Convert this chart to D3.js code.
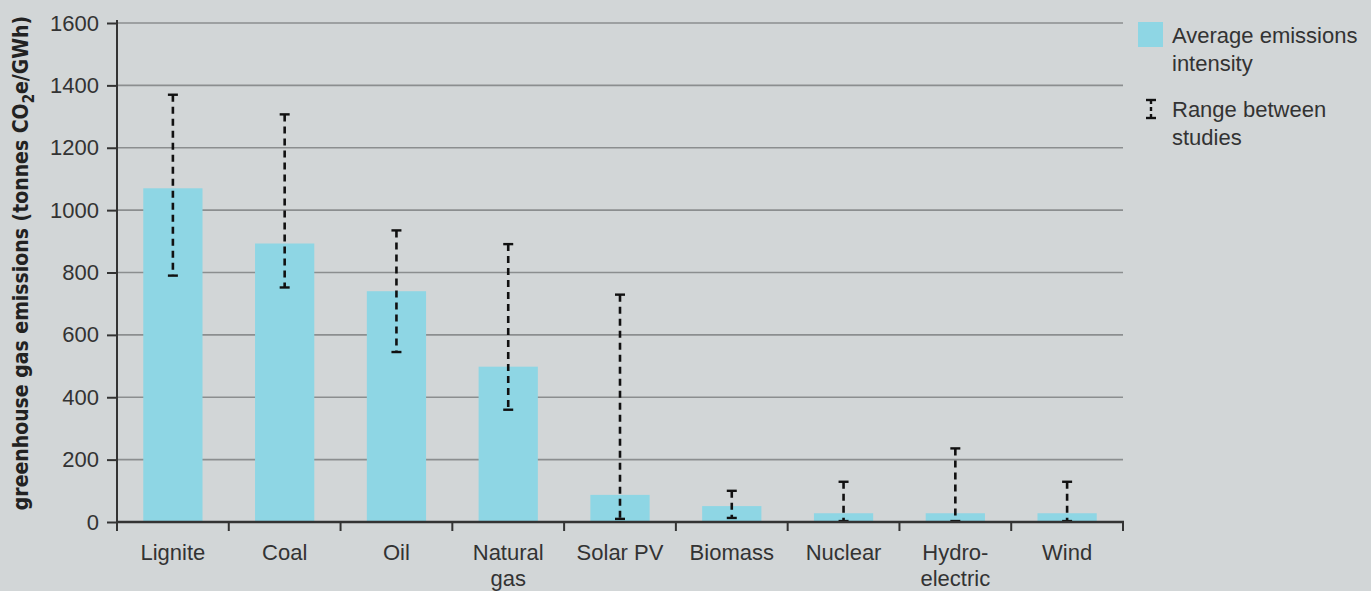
<!DOCTYPE html>
<html>
<head>
<meta charset="utf-8">
<script src="https://cdn.jsdelivr.net/npm/d3@7"></script>
<style>
  html, body { margin: 0; padding: 0; background: #d2d6d7; }
  svg { display: block; }
</style>
</head>
<body>
<svg id="chart" width="1371" height="591"></svg>
<script>
// ---- Data ----
const categories = ["Lignite", "Coal", "Oil", "Natural gas", "Solar PV", "Biomass", "Nuclear", "Hydro-electric", "Wind"];
const categoryLines = [["Lignite"], ["Coal"], ["Oil"], ["Natural", "gas"], ["Solar PV"], ["Biomass"], ["Nuclear"], ["Hydro-", "electric"], ["Wind"]];
const averageValues = [1070, 893, 740, 498, 87, 51, 28, 28, 28];
const rangeLow = [790, 752, 545, 360, 10, 13, 3, 3, 3];
const rangeHigh = [1370, 1307, 935, 891, 729, 100, 129, 236, 129];
const yTicks = [0, 200, 400, 600, 800, 1000, 1200, 1400, 1600];
const legendLabels = [["Average emissions", "intensity"], ["Range between", "studies"]];

(function () {
// ---- Layout ----
const svg = d3.select("#chart");
const mLeft = 117, mRight = 1123, mTop = 23, mBottom = 522;
const barColor = "#8ed6e4";
const textColor = "#333333";
const font = "'Liberation Sans', Arial, sans-serif";

const x = d3.scaleBand().domain(categories).range([mLeft, mRight]).padding(0);
const y = d3.scaleLinear().domain([0, 1600]).range([mBottom, mTop]);
const barW = x.bandwidth() * 0.53;

// gridlines
svg.append("g").selectAll("line").data(yTicks.filter(d => d > 0)).join("line")
  .attr("x1", mLeft).attr("x2", mRight)
  .attr("y1", d => y(d)).attr("y2", d => y(d))
  .attr("stroke", "#8b8e8f").attr("stroke-width", 1.6);

// bars
svg.append("g").selectAll("rect").data(categories).join("rect")
  .attr("x", d => x(d) + (x.bandwidth() - barW) / 2)
  .attr("width", barW)
  .attr("y", (d, i) => y(averageValues[i]))
  .attr("height", (d, i) => y(0) - y(averageValues[i]))
  .attr("fill", barColor);

// error bars
const eb = svg.append("g");
categories.forEach((c, i) => {
  const cx = x(c) + x.bandwidth() / 2;
  eb.append("line").attr("x1", cx).attr("x2", cx)
    .attr("y1", y(rangeHigh[i])).attr("y2", y(rangeLow[i]))
    .attr("stroke", "#111").attr("stroke-width", 2.6).attr("stroke-dasharray", "7,5");
  [rangeHigh[i], rangeLow[i]].forEach(v => {
    eb.append("line").attr("x1", cx - 5).attr("x2", cx + 5)
      .attr("y1", y(v)).attr("y2", y(v))
      .attr("stroke", "#111").attr("stroke-width", 2.4);
  });
});

// y axis
const yAxis = svg.append("g").attr("transform", `translate(${mLeft},0)`)
  .call(d3.axisLeft(y).tickValues(yTicks).tickSize(10).tickPadding(8).tickFormat(d3.format("d")));
yAxis.select(".domain").attr("stroke", "#333").attr("stroke-width", 2).attr("d", `M0,${mTop - 3}V${mBottom}`);
yAxis.selectAll(".tick line").attr("stroke", "#333").attr("stroke-width", 2);
yAxis.selectAll(".tick text").attr("fill", textColor).style("font-family", font).style("font-size", "22px");

// x axis
const xAxis = svg.append("g").attr("transform", `translate(0,${mBottom})`);
xAxis.append("line").attr("x1", mLeft - 1).attr("x2", mRight + 1).attr("y1", 0).attr("y2", 0)
  .attr("stroke", "#333").attr("stroke-width", 2.5);
const bounds = categories.map(c => x(c)).concat([mRight]);
xAxis.selectAll("line.tk").data(bounds).join("line").attr("class", "tk")
  .attr("x1", d => d).attr("x2", d => d).attr("y1", 0).attr("y2", 9)
  .attr("stroke", "#333").attr("stroke-width", 2);
categories.forEach((c, i) => {
  const t = xAxis.append("text")
    .attr("x", x(c) + x.bandwidth() / 2).attr("y", 38)
    .attr("text-anchor", "middle").attr("fill", textColor)
    .style("font-family", font).style("font-size", "22px");
  categoryLines[i].forEach((ln, j) => {
    t.append("tspan").attr("x", x(c) + x.bandwidth() / 2).attr("dy", j === 0 ? 0 : 26).text(ln);
  });
});

// y title
const yt = svg.append("text")
  .attr("transform", "translate(28,263) rotate(-90)")
  .attr("text-anchor", "middle").attr("fill", "#222")
  .style("font-family", "'Liberation Sans Narrow', 'DejaVu Sans Condensed', 'Liberation Sans', sans-serif")
  .style("font-weight", "bold").style("font-size", "21px");
yt.append("tspan").text("greenhouse gas emissions (tonnes CO");
yt.append("tspan").attr("dy", 6).style("font-size", "15px").text("2");
yt.append("tspan").attr("dy", -6).text("e/GWh)");

// legend
const lg = svg.append("g");
lg.append("rect").attr("x", 1138).attr("y", 22).attr("width", 25).attr("height", 25).attr("fill", barColor);
const lx = 1151;
lg.append("line").attr("x1", lx).attr("x2", lx).attr("y1", 100).attr("y2", 118)
  .attr("stroke", "#111").attr("stroke-width", 2.4).attr("stroke-dasharray", "4,3");
[100, 118].forEach(yy => lg.append("line").attr("x1", lx - 5).attr("x2", lx + 5).attr("y1", yy).attr("y2", yy)
  .attr("stroke", "#111").attr("stroke-width", 2.4));
const legendY = [43, 117];
legendLabels.forEach((lines, i) => {
  const t = lg.append("text").attr("x", 1172).attr("y", legendY[i]).attr("fill", textColor)
    .style("font-family", font).style("font-size", "22px");
  lines.forEach((ln, j) => t.append("tspan").attr("x", 1172).attr("dy", j === 0 ? 0 : 28).text(ln));
});
})();
</script>
</body>
</html>
